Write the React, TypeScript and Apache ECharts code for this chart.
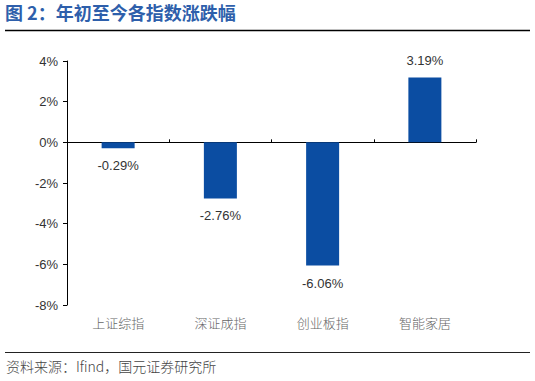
import React, { useEffect, useRef } from "react";
import * as echarts from "echarts";

const categories = ["上证综指", "深证成指", "创业板指", "智能家居"];
const values = [-0.29, -2.76, -6.06, 3.19];
const yTicks = { min: -8, max: 4, interval: 2 };
const titleText = "图 2：年初至今各指数涨跌幅";
const sourceText = "资料来源：Ifind，国元证券研究所";

export default function App() {
  const ref = useRef<HTMLDivElement>(null);
  useEffect(() => {
    const chart = echarts.init(ref.current!, null, { renderer: "svg" });
    const sans = "Liberation Sans, Arial, sans-serif";
    const cjk = "Noto Sans CJK SC, sans-serif";
    chart.setOption({
      animation: false,
      grid: { left: 67, right: 59, top: 61, bottom: 76 },
      xAxis: [
        {
          type: "category",
          data: categories,
          axisLine: { onZero: true, lineStyle: { color: "#000", width: 1 } },
          axisTick: { show: true, inside: true, length: 3, lineStyle: { color: "#000" } },
          axisLabel: { show: false },
        },
        {
          type: "category",
          data: categories,
          position: "bottom",
          axisLine: { show: false, onZero: false },
          axisTick: { show: false },
          axisLabel: { margin: 11, color: "#666", fontSize: 13, fontWeight: 300, fontFamily: cjk },
        },
      ],
      yAxis: {
        type: "value",
        min: yTicks.min,
        max: yTicks.max,
        interval: yTicks.interval,
        axisLine: { show: true, lineStyle: { color: "#000", width: 1 } },
        axisTick: { show: true, length: 4, lineStyle: { color: "#000" } },
        splitLine: { show: false },
        axisLabel: {
          margin: 9,
          color: "#333",
          fontSize: 13,
          fontFamily: sans,
          formatter: (v: number) => v + "%",
        },
      },
      series: [
        {
          type: "bar",
          xAxisIndex: 0,
          barWidth: 33,
          data: values.map((v) => ({
            value: v,
            label: {
              show: true,
              position: v < 0 ? "bottom" : "top",
              distance: v < 0 ? 11 : 10,
              formatter: (p: any) => p.value.toFixed(2) + "%",
              color: "#333",
              fontSize: 13,
              fontFamily: sans,
            },
          })),
          itemStyle: { color: "#0b4da2" },
        },
      ],
      graphic: [
        {
          type: "text",
          left: 5,
          top: 3,
          style: {
            text: titleText,
            fill: "#2e5fab",
            font: "bold 18px " + cjk,
          },
        },
        {
          type: "line",
          shape: { x1: 5, y1: 30.5, x2: 530, y2: 30.5 },
          style: { stroke: "#000", lineWidth: 1.5 },
        },
        {
          type: "line",
          shape: { x1: 5, y1: 352.5, x2: 530, y2: 352.5 },
          style: { stroke: "#222", lineWidth: 1.2 },
        },
        {
          type: "text",
          left: 6,
          top: 359,
          style: {
            text: sourceText,
            fill: "#444",
            font: "300 14px " + cjk,
          },
        },
      ],
    });
    return () => chart.dispose();
  }, []);
  return <div ref={ref} style={{ width: 535, height: 381, position: "absolute", left: 0, top: 0 }} />;
}
